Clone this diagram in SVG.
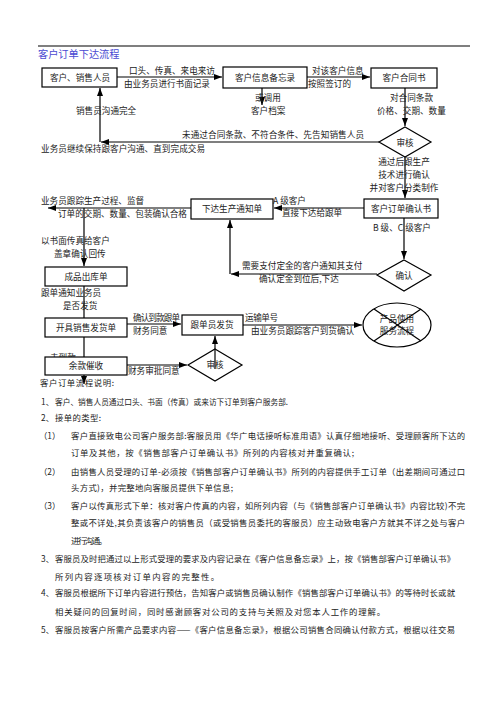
<svg xmlns="http://www.w3.org/2000/svg" width="496" height="702" viewBox="0 0 496 702">
<style>
text{font-family:"Noto Sans CJK SC","Liberation Serif",sans-serif;fill:#222;}
.t{font-size:8.6px;}
.c{font-size:8.6px;text-anchor:middle;}
.e{font-size:8.4px;}
.box{fill:#fff;stroke:#000;stroke-width:1.2;}
.dia{fill:none;stroke:#000;stroke-width:1.2;}
.ln{fill:none;stroke:#000;stroke-width:1.2;}
.ar{fill:none;stroke:#000;stroke-width:1.2;marker-end:url(#ah);}
.title{font-size:10.2px;fill:#4a4ad2;}
</style>
<defs>
<marker id="ah" markerWidth="8" markerHeight="6" refX="8" refY="3" orient="auto" markerUnits="userSpaceOnUse"><path d="M0,0 L8,3 L0,6 z" fill="#000"/></marker>
</defs>
<rect width="496" height="702" fill="#fff"/>
<line x1="38" y1="46" x2="470" y2="46" stroke="#000" stroke-width="1.2"/>
<text class="title" x="38" y="58">客户订单下达流程</text>

<g id="hidden-labels">
<text class="t" x="50" y="361">未到款</text>
</g>

<g id="connectors">
<path class="ar" d="M117,77 H222"/>
<path class="ar" d="M307,77 H370"/>
<path class="ar" d="M262,88 V105"/>
<path class="ar" d="M405,88 V126"/>
<path class="ar" d="M379,142 H101"/>
<path class="ar" d="M100,142 V88"/>
<path class="ar" d="M405,157 V198"/>
<path class="ar" d="M364,208 H274"/>
<path class="ar" d="M191,208 H48"/>
<path class="ar" d="M84,208 V266"/>
<path class="ar" d="M404,218 V259"/>
<path class="ar" d="M377,274 H231"/>
<path class="ar" d="M230,274 V220"/>
<path class="ln" d="M84,286 V318"/>
<path class="ar" d="M84,337 V384"/>
<path class="ar" d="M127,324 H181"/>
<path class="ar" d="M243,325 H362"/>
<path class="ar" d="M127,365 H187"/>
<path class="ar" d="M215,369 V336"/>
</g>

<g id="n-customer">
<rect class="box" x="42" y="68" width="75" height="19"/>
<text class="c" x="80" y="80.5">客户、销售人员</text>
</g>
<g id="n-memo">
<rect class="box" x="223" y="67" width="84" height="21"/>
<text class="c" x="265" y="80.5">客户信息备忘录</text>
</g>
<g id="n-contract">
<rect class="box" x="371" y="68" width="66" height="20"/>
<text class="c" x="404" y="81">客户合同书</text>
</g>
<g id="n-review1">
<polygon class="dia" points="405,127 431,142 405,157 379,142"/>
<text class="c" x="405" y="145.5">审核</text>
</g>
<g id="n-notice">
<rect class="box" x="191" y="199" width="82" height="20"/>
<text class="c" x="232" y="212">下达生产通知单</text>
</g>
<g id="n-confirmbook">
<rect class="box" x="364" y="199" width="74" height="19"/>
<text class="c" x="401" y="211.5">客户订单确认书</text>
</g>
<g id="n-outbound">
<rect class="box" x="45" y="267" width="82" height="19"/>
<text class="c" x="86" y="280">成品出库单</text>
</g>
<g id="n-confirm">
<polygon class="dia" points="404,260 431,275 404,291 377,275"/>
<text class="c" x="404" y="278.5">确认</text>
</g>
<g id="n-invoice">
<rect class="box" x="45" y="318" width="82" height="19"/>
<text class="c" x="86" y="330.5">开具销售发货单</text>
</g>
<g id="n-ship">
<rect class="box" x="182" y="315" width="61" height="20"/>
<text class="c" x="212" y="328">跟单员发货</text>
</g>
<g id="n-collect">
<rect class="box" x="45" y="357" width="82" height="18"/>
<text class="c" x="86" y="369">余款催收</text>
</g>
<g id="n-review2">
<polygon class="dia" points="215,349 242,365 215,381 188,365"/>
<text class="c" x="215" y="368">审核</text>
</g>
<g id="n-service">
<ellipse cx="397" cy="325" rx="34" ry="22" fill="#fff" stroke="#000" stroke-width="1.2"/>
<line x1="374" y1="309" x2="421" y2="341" stroke="#000" stroke-width="1.2"/>
<line x1="421" y1="309" x2="374" y2="341" stroke="#000" stroke-width="1.2"/>
<text class="c" x="397" y="321.5" fill="#444">产品使用</text>
<text class="c" x="397" y="334" fill="#444">服务流程</text>
</g>

<g id="labels">
<text class="t" x="129" y="73.5">口头、传真、来电来访</text>
<text class="t" x="124" y="87">由业务员进行书面记录</text>
<text class="t" x="312" y="73.5">对该客户信息</text>
<text class="t" x="308" y="87">按照签订的</text>
<text class="t" x="255" y="100.5">或调用</text>
<text class="t" x="251" y="113.5">客户档案</text>
<text class="t" x="390" y="100.5">对合同条款</text>
<text class="t" x="377" y="113.5">价格、交期、数量</text>
<text class="t" x="76" y="113.5">销售员沟通完全</text>
<text class="t" x="182" y="138" textLength="182" lengthAdjust="spacing">未通过合同条款、不符合条件、先告知销售人员</text>
<text class="t" x="41" y="151.5" textLength="164" lengthAdjust="spacing">业务员继续保持跟客户沟通、直到完成交易</text>
<text class="c" x="404" y="165">通过后跟生产</text>
<text class="c" x="404" y="178">技术进行确认</text>
<text class="c" x="404" y="191">并对客户分类制作</text>
<text class="t" x="273" y="203.5">A 级客户</text>
<text class="t" x="282" y="216">直接下达给跟单</text>
<text class="t" x="41" y="204">业务员跟踪生产过程、监督</text>
<text class="t" x="58" y="217">订单的交期、数量、包装确认合格</text>
<text class="t" x="373" y="230.5">B 级、C 级客户</text>
<text class="t" x="41" y="243.5">以书面传真给客户</text>
<text class="t" x="54" y="256.5">盖章确认回传</text>
<text class="t" x="242" y="268.5">需要支付定金的客户通知其支付</text>
<text class="t" x="259" y="282">确认定金到位后,下达</text>
<text class="t" x="41" y="295.5">跟单通知业务员</text>
<text class="t" x="63" y="308.5">是否发货</text>
<text class="t" x="133" y="321" textLength="47" lengthAdjust="spacing">确认到款跟单</text>
<text class="t" x="245" y="321" textLength="33" lengthAdjust="spacing">运输单号</text>
<text class="t" x="133" y="334">财务同意</text>
<text class="t" x="251" y="334">由业务员跟踪客户到货确认</text>
<text class="t" x="128" y="373.5">财务审批同意</text>
</g>

<g id="notes">
<text class="e" x="40" y="386" textLength="74" lengthAdjust="spacing">客户订单流程说明:</text>
<text class="e" x="41" y="405">1、</text>
<text class="e" x="55" y="405" textLength="233" lengthAdjust="spacingAndGlyphs">客户、销售人员通过口头、书面（传真）或来访下订单到客户服务部.</text>
<text class="e" x="41" y="421">2、</text>
<text class="e" x="55" y="421" textLength="46" lengthAdjust="spacing">接单的类型:</text>
<text class="e" x="39" y="439">（1）</text>
<text class="e" x="71" y="439" textLength="394" lengthAdjust="spacing">客户直接致电公司客户服务部:客服员用《华广电话接听标准用语》认真仔细地接听、受理顾客所下达的</text>
<text class="e" x="71" y="456" textLength="283" lengthAdjust="spacing">订单及其他，按《销售部客户订单确认书》所列的内容核对并重复确认;</text>
<text class="e" x="39" y="475">（2）</text>
<text class="e" x="71" y="475" textLength="394" lengthAdjust="spacing">由销售人员受理的订单-必须按《销售部客户订单确认书》所列的内容提供手工订单（出差期间可通过口</text>
<text class="e" x="71" y="491" textLength="162" lengthAdjust="spacing">头方式)，并完整地向客服员提供下单信息;</text>
<text class="e" x="39" y="509">（3）</text>
<text class="e" x="71" y="509" textLength="394" lengthAdjust="spacing">客户以传真形式下单：核对客户传真的内容，如所列内容（与《销售部客户订单确认书》内容比较)不完</text>
<text class="e" x="71" y="526" textLength="394" lengthAdjust="spacing">整或不详处,其负责该客户的销售员（或受销售员委托的客服员）应主动致电客户方就其不详之处与客户</text>
<text class="e" x="71" y="544" textLength="36" lengthAdjust="spacing">进行沟通。</text>
<text class="e" x="41" y="562">3、</text>
<text class="e" x="55" y="562" textLength="400" lengthAdjust="spacing">客服员及时把通过以上形式受理的要求及内容记录在《客户信息备忘录》上，按《销售部客户订单确认书》</text>
<text class="e" x="55" y="580" textLength="164" lengthAdjust="spacing">所列内容逐项核对订单内容的完整性。</text>
<text class="e" x="41" y="596">4、</text>
<text class="e" x="55" y="596" textLength="400" lengthAdjust="spacing">客服员根据所下订单内容进行预估，告知客户或销售员确认制作《销售部客户订单确认书》的等待时长或就</text>
<text class="e" x="55" y="615" textLength="330" lengthAdjust="spacing">相关疑问的回复时间，同时感谢顾客对公司的支持与关照及对您本人工作的理解。</text>
<text class="e" x="41" y="633">5、</text>
<text class="e" x="55" y="633" textLength="400" lengthAdjust="spacing">客服员按客户所需产品要求内容——《客户信息备忘录》，根据公司销售合同确认付款方式，根据以往交易</text>
</g>
</svg>
